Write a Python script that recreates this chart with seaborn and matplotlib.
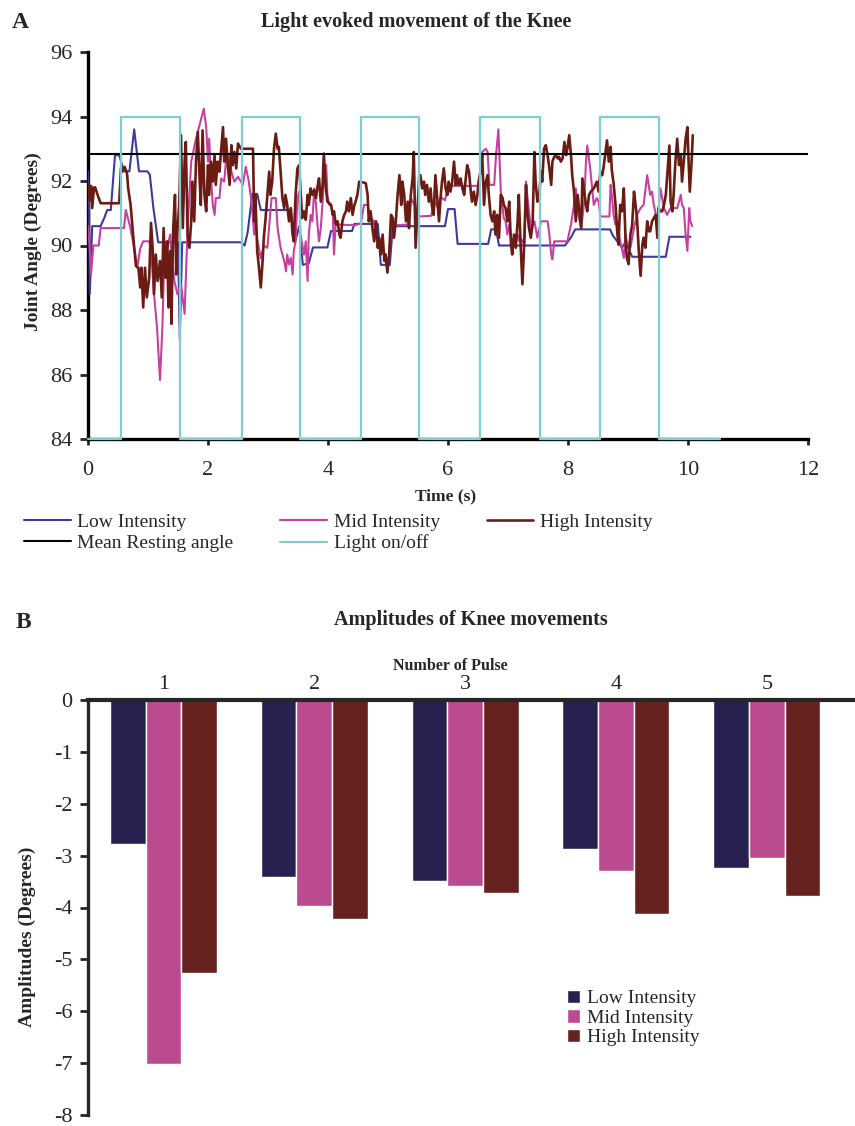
import numpy as np
import pandas as pd
import matplotlib
matplotlib.use("Agg")
import matplotlib.pyplot as plt
import seaborn as sns

sns.set_style("ticks")
plt.rcParams["font.family"] = ["Liberation Serif", "DejaVu Serif"]

# ---------------- Panel A: knee joint angle traces ----------------
LOW_T = [0.00, 0.02, 0.03, 0.07, 0.21, 0.27, 0.32, 0.38, 0.45, 0.52, 0.60, 0.69,
         0.77, 0.85, 0.99, 1.03, 1.09, 1.17, 1.50, 1.53, 1.57, 2.55, 2.61, 2.66,
         2.74, 2.82, 2.88, 3.38, 3.45, 3.52, 3.58, 3.68, 3.75, 3.99, 4.05, 4.40,
         4.44, 4.83, 4.88, 5.03, 5.08, 5.95, 6.00, 6.11, 6.16, 6.67, 6.72, 6.80,
         6.85, 7.95, 8.05, 8.12, 8.70, 8.75, 8.90, 8.96, 9.07, 9.63, 9.69, 10.04]
LOW_DEG = [92.3, 91.2, 88.5, 90.6, 90.6, 90.85, 91.1, 91.1, 92.8, 92.8, 92.3, 92.3,
           93.6, 92.3, 92.3, 92.2, 91.16, 90.1, 90.1, 87.1, 90.1, 90.1, 90.0, 90.4,
           91.6, 91.6, 91.1, 91.1, 90.1, 90.6, 89.4, 89.45, 89.94, 89.94, 90.45, 90.45,
           90.67, 90.67, 89.4, 89.4, 90.6, 90.6, 91.13, 91.13, 90.05, 90.05, 90.5, 90.5,
           90.0, 90.0, 90.25, 90.5, 90.5, 90.3, 89.94, 90.1, 89.65, 89.65, 90.27, 90.27]

MID_T = [0.00, 0.03, 0.05, 0.09, 0.18, 0.21, 0.60, 0.63, 0.70, 0.77, 0.82, 0.87,
         0.92, 1.02, 1.05, 1.10, 1.15, 1.20, 1.24, 1.27, 1.32, 1.37, 1.39, 1.44,
         1.49, 1.55, 1.61, 1.66, 1.72, 1.80, 1.93, 1.97, 2.00, 2.02, 2.05, 2.08,
         2.11, 2.13, 2.19, 2.22, 2.27, 2.30, 2.34, 2.39, 2.44, 2.50, 2.58, 2.63,
         2.68, 2.71, 2.74, 2.77, 2.79, 2.82, 2.88, 2.93, 2.99, 3.04, 3.06, 3.13,
         3.16, 3.21, 3.27, 3.30, 3.32, 3.35, 3.38, 3.41, 3.43, 3.46, 3.49, 3.52,
         3.54, 3.57, 3.60, 3.63, 3.66, 3.68, 3.71, 3.74, 3.77, 3.80, 3.82, 3.85,
         3.88, 3.91, 3.93, 3.97, 3.99, 4.02, 4.05, 4.08, 4.10, 4.13, 4.16, 4.45,
         4.49, 4.55, 4.60, 4.66, 4.69, 4.71, 4.77, 4.83, 4.88, 4.94, 4.99, 5.02,
         5.05, 5.08, 5.16, 5.33, 5.38, 5.44, 5.50, 5.72, 5.77, 5.82, 5.88, 5.95,
         6.00, 6.52, 6.57, 6.63, 6.66, 6.69, 6.77, 6.80, 6.84, 6.88, 6.93, 6.96,
         6.99, 7.02, 7.05, 7.10, 7.16, 7.19, 7.21, 7.27, 7.30, 7.32, 7.38, 7.44,
         7.49, 7.55, 7.66, 7.69, 7.72, 7.74, 7.77, 7.99, 8.05, 8.10, 8.13, 8.16,
         8.22, 8.27, 8.30, 8.32, 8.37, 8.43, 8.48, 8.51, 8.54, 8.69, 8.71, 8.73,
         8.76, 8.79, 8.82, 8.87, 8.93, 8.96, 8.98, 9.04, 9.10, 9.15, 9.21, 9.26,
         9.32, 9.37, 9.40, 9.43, 9.49, 9.54, 9.60, 9.65, 9.71, 9.82, 9.88, 9.90,
         9.93, 9.96, 9.99, 10.02, 10.04, 10.07]
MID_DEG = [90.6, 89.9, 89.1, 90.0, 90.0, 90.54, 90.54, 91.1, 90.6, 89.93, 89.31, 89.9,
           90.13, 90.13, 89.83, 88.49, 87.47, 85.83, 87.47, 89.52, 89.93, 90.34, 89.72, 88.9,
           88.49, 88.8, 87.88, 90.54, 92.6, 93.31, 94.24, 93.67, 92.6, 93.31, 92.08, 91.26,
           90.95, 91.47, 91.47, 92.08, 91.98, 92.6, 92.8, 92.29, 91.98, 92.13, 91.88, 92.44,
           91.98, 91.57, 91.06, 90.34, 90.75, 90.2, 89.6, 90.0, 89.93, 91.06, 91.47, 91.47,
           90.54, 89.93, 89.52, 89.2, 89.72, 89.41, 89.62, 89.1, 89.83, 90.13, 91.47, 91.67,
           90.34, 90.03, 89.72, 90.13, 88.9, 90.34, 90.95, 90.75, 91.77, 91.26, 90.75, 90.13,
           90.54, 91.36, 91.88, 92.5, 91.57, 91.26, 91.26, 90.95, 89.72, 90.75, 90.65, 90.63,
           90.65, 90.7, 91.26, 91.26, 90.95, 90.85, 90.75, 90.13, 89.93, 89.72, 89.31, 89.72,
           90.54, 90.65, 90.63, 90.65, 91.47, 91.26, 90.9, 90.92, 91.4, 91.2, 91.5, 91.4,
           91.85, 91.85, 92.9, 93.0, 92.9, 91.88, 91.88, 92.8, 93.6, 91.67, 90.85, 90.75,
           90.34, 90.65, 90.24, 90.03, 90.34, 90.13, 90.24, 90.03, 91.98, 91.57, 90.54, 90.75,
           90.24, 90.75, 90.75, 90.34, 89.72, 89.57, 90.13, 90.13, 90.65, 91.26, 91.77, 91.06,
           90.54, 91.36, 92.6, 93.1, 92.39, 91.26, 91.47, 91.36, 90.9, 90.9, 91.88, 91.57,
           90.95, 90.65, 90.75, 90.13, 89.62, 90.34, 90.13, 89.93, 90.54, 90.95, 91.16, 91.26,
           92.18, 91.57, 91.67, 91.26, 90.75, 91.77, 91.16, 90.95, 91.16, 91.16, 91.57, 91.26,
           91.16, 90.34, 89.83, 91.16, 90.75, 90.6]

HIGH_T = [0.00, 0.03, 0.05, 0.07, 0.10, 0.12, 0.16, 0.21, 0.52, 0.55, 0.57, 0.61,
          0.65, 0.67, 0.71, 0.74, 0.77, 0.80, 0.84, 0.87, 0.89, 0.92, 0.95, 0.98,
          1.02, 1.05, 1.08, 1.10, 1.13, 1.16, 1.20, 1.23, 1.26, 1.29, 1.32, 1.34,
          1.37, 1.39, 1.42, 1.45, 1.47, 1.49, 1.52, 1.55, 1.58, 1.61, 1.63, 1.66,
          1.69, 1.72, 1.74, 1.77, 1.80, 1.83, 1.86, 1.88, 1.91, 1.94, 1.97, 2.00,
          2.02, 2.05, 2.08, 2.11, 2.13, 2.16, 2.19, 2.22, 2.25, 2.27, 2.30, 2.33,
          2.36, 2.39, 2.41, 2.44, 2.47, 2.50, 2.53, 2.55, 2.75, 2.77, 2.79, 2.82,
          2.85, 2.88, 2.91, 2.93, 2.96, 2.99, 3.02, 3.04, 3.07, 3.10, 3.13, 3.16,
          3.18, 3.21, 3.24, 3.27, 3.29, 3.32, 3.35, 3.38, 3.41, 3.43, 3.46, 3.49,
          3.52, 3.54, 3.57, 3.60, 3.63, 3.66, 3.68, 3.71, 3.74, 3.77, 3.80, 3.82,
          3.85, 3.88, 3.91, 3.93, 3.96, 3.99, 4.02, 4.05, 4.08, 4.10, 4.13, 4.16,
          4.19, 4.21, 4.24, 4.27, 4.30, 4.32, 4.35, 4.38, 4.41, 4.44, 4.46, 4.49,
          4.52, 4.58, 4.63, 4.66, 4.68, 4.71, 4.74, 4.77, 4.80, 4.83, 4.85, 4.88,
          4.91, 4.94, 4.96, 4.99, 5.02, 5.05, 5.08, 5.10, 5.13, 5.16, 5.19, 5.22,
          5.24, 5.27, 5.30, 5.33, 5.35, 5.38, 5.41, 5.43, 5.46, 5.49, 5.52, 5.54,
          5.57, 5.60, 5.62, 5.65, 5.68, 5.71, 5.73, 5.76, 5.79, 5.82, 5.85, 5.88,
          5.90, 5.93, 5.96, 5.99, 6.01, 6.04, 6.07, 6.10, 6.13, 6.15, 6.18, 6.21,
          6.24, 6.27, 6.29, 6.32, 6.35, 6.38, 6.40, 6.43, 6.46, 6.49, 6.51, 6.54,
          6.57, 6.60, 6.63, 6.66, 6.68, 6.71, 6.74, 6.77, 6.79, 6.82, 6.85, 6.88,
          6.91, 6.93, 6.96, 6.99, 7.02, 7.05, 7.07, 7.10, 7.13, 7.16, 7.18, 7.21,
          7.24, 7.27, 7.30, 7.32, 7.35, 7.38, 7.41, 7.44, 7.46, 7.49, 7.52, 7.55,
          7.57, 7.60, 7.63, 7.66, 7.69, 7.72, 7.74, 7.77, 7.80, 7.83, 7.85, 7.88,
          7.91, 7.94, 7.97, 7.99, 8.02, 8.05, 8.07, 8.10, 8.13, 8.16, 8.19, 8.22,
          8.24, 8.27, 8.30, 8.32, 8.35, 8.38, 8.43, 8.48, 8.51, 8.54, 8.57, 8.59,
          8.65, 8.68, 8.71, 8.73, 8.76, 8.79, 8.82, 8.84, 8.87, 8.90, 8.93, 8.96,
          8.98, 9.01, 9.04, 9.07, 9.10, 9.12, 9.15, 9.18, 9.21, 9.24, 9.26, 9.29,
          9.32, 9.35, 9.37, 9.40, 9.43, 9.46, 9.49, 9.51, 9.54, 9.57, 9.60, 9.63,
          9.65, 9.69, 9.71, 9.74, 9.76, 9.79, 9.82, 9.85, 9.88, 9.90, 9.93, 9.96,
          9.99, 10.01, 10.03, 10.06, 10.08]
HIGH_DEG = [91.9, 91.4, 91.85, 91.16, 91.8, 91.8, 91.57, 91.31, 91.31, 92.4, 92.29, 92.44,
            92.24, 91.77, 91.26, 90.6, 89.93, 89.36, 89.31, 88.7, 89.31, 88.08, 89.31, 88.39,
            89.0, 90.7, 89.83, 88.49, 89.72, 88.9, 89.52, 88.39, 90.54, 89.0, 90.13, 88.08,
            89.83, 87.57, 90.54, 91.57, 89.1, 90.44, 91.26, 93.42, 90.54, 92.6, 93.21, 90.34,
            89.93, 90.75, 91.98, 90.75, 92.6, 93.52, 92.08, 91.26, 93.57, 91.57, 91.06, 92.49,
            91.57, 92.6, 91.98, 92.8, 91.88, 92.6, 92.29, 93.0, 93.67, 92.6, 93.31, 92.49,
            91.88, 93.11, 92.49, 92.9, 92.39, 93.16, 93.06, 93.0, 93.0, 90.75, 91.57, 89.83,
            89.31, 88.7, 89.52, 90.24, 90.85, 91.57, 92.29, 91.57, 91.98, 93.0, 93.47, 93.0,
            93.06, 92.29, 91.47, 91.16, 91.57, 91.26, 90.75, 91.16, 90.34, 90.13, 91.57, 92.39,
            92.49, 91.77, 90.85, 91.06, 90.8, 91.57, 91.26, 91.77, 91.57, 91.72, 91.47, 91.77,
            92.08, 91.36, 91.88, 92.85, 91.88, 91.36, 91.31, 91.26, 90.95, 91.06, 90.65, 90.75,
            90.34, 90.24, 90.75, 90.95, 91.06, 91.36, 91.06, 91.47, 90.95, 91.26, 91.36, 91.57,
            91.98, 91.96, 91.93, 91.57, 90.75, 91.06, 90.54, 90.13, 90.75, 89.93, 90.24, 89.72,
            90.34, 89.52, 89.72, 89.16, 89.72, 90.95, 90.85, 90.24, 90.75, 91.57, 92.18, 91.26,
            91.98, 91.57, 90.75, 91.36, 90.54, 91.57, 92.08, 92.9, 89.93, 91.06, 92.15, 92.18,
            91.77, 91.98, 91.57, 91.88, 91.36, 91.77, 91.26, 90.95, 92.18, 91.47, 90.75, 91.57,
            91.98, 92.39, 91.77, 91.57, 91.98, 91.67, 91.98, 92.6, 91.88, 92.18, 91.88, 92.08,
            91.77, 91.57, 91.98, 92.49, 92.29, 91.67, 91.36, 91.67, 91.26, 91.57, 91.98, 92.29,
            92.8, 91.26, 91.98, 92.18, 91.57, 90.95, 90.75, 91.06, 90.34, 90.95, 90.24, 91.57,
            91.47, 91.26, 91.16, 90.75, 91.36, 90.03, 89.72, 90.34, 89.93, 90.75, 91.57, 90.03,
            88.8, 90.03, 91.88, 91.06, 90.54, 90.24, 90.65, 92.9, 91.98, 91.36, 91.57, 92.29,
            91.98, 93.0, 93.11, 92.8, 92.39, 91.88, 92.6, 92.75, 92.8, 92.7, 92.75, 92.6,
            92.7, 93.21, 92.8, 93.0, 93.42, 92.8, 92.18, 91.67, 90.75, 91.57, 91.06, 90.54,
            92.08, 91.67, 91.26, 91.06, 91.57, 91.67, 91.77, 91.98, 91.67, 92.29, 92.18, 92.39,
            93.26, 92.6, 93.06, 92.34, 91.93, 91.31, 90.44, 90.03, 91.26, 91.06, 91.77, 90.13,
            89.62, 89.42, 90.34, 90.65, 91.67, 91.36, 90.85, 89.83, 89.06, 90.03, 90.24, 89.93,
            90.75, 90.44, 90.44, 90.75, 90.85, 90.95, 90.24, 91.16, 91.06, 91.06, 91.26, 91.57,
            92.08, 93.1, 91.36, 91.06, 91.57, 92.6, 93.31, 92.49, 92.8, 91.98, 92.6, 93.31,
            93.67, 92.6, 91.67, 92.6, 93.42]

MEAN_RESTING = 92.85
LIGHT_ON = [0.55, 2.56, 4.55, 6.53, 8.54]
LIGHT_OFF = [1.53, 3.53, 5.52, 7.53, 9.52]
LIGHT_END = 10.53
LIGHT_LEVELS = (84, 94)

# ---------------- Panel B: movement amplitudes per pulse ----------------
PULSES = ["1", "2", "3", "4", "5"]
INTENSITIES = ["Low Intensity", "Mid Intensity", "High Intensity"]
AMP_LOW = [-2.77, -3.41, -3.48, -2.87, -3.23]
AMP_MID = [-7.02, -3.98, -3.59, -3.30, -3.05]
AMP_HIGH = [-5.26, -4.23, -3.73, -4.12, -3.77]

LINE_COLORS = {"low": "#3c3a9c", "mid": "#c640a0", "high": "#6b1c12",
               "mean": "#000000", "light": "#7fcdd2"}
BAR_COLORS = ["#272150", "#bb4b8f", "#66221f"]

W, H = 855, 1126
fig = plt.figure(figsize=(W / 100, H / 100), dpi=100)


def fx(px):
    return px / W


def fy(py):
    return 1 - py / H


# ---------- Panel A ----------
axA = fig.add_axes([fx(88), fy(439), (808 - 88) / W, (439 - 52) / H])

sns.lineplot(x=LOW_T, y=LOW_DEG, sort=False, estimator=None, ax=axA,
             color=LINE_COLORS["low"], lw=1.5, label="Low Intensity", zorder=3)
sns.lineplot(x=MID_T, y=MID_DEG, sort=False, estimator=None, ax=axA,
             color=LINE_COLORS["mid"], lw=1.5, label="Mid Intensity", zorder=4)
sns.lineplot(x=HIGH_T, y=HIGH_DEG, sort=False, estimator=None, ax=axA,
             color=LINE_COLORS["high"], lw=1.9, label="High Intensity", zorder=5)
sns.lineplot(x=[0, 12], y=[MEAN_RESTING, MEAN_RESTING], sort=False, estimator=None,
             ax=axA, color=LINE_COLORS["mean"], lw=1.5, label="Mean Resting angle", zorder=6)

light_t, light_v = [0.0], [LIGHT_LEVELS[0]]
for on, off in zip(LIGHT_ON, LIGHT_OFF):
    light_t += [on, on, off, off]
    light_v += [LIGHT_LEVELS[0], LIGHT_LEVELS[1], LIGHT_LEVELS[1], LIGHT_LEVELS[0]]
light_t.append(LIGHT_END)
light_v.append(LIGHT_LEVELS[0])
sns.lineplot(x=light_t, y=light_v, sort=False, estimator=None, ax=axA,
             color=LINE_COLORS["light"], lw=1.6, label="Light on/off", zorder=7,
             clip_on=False)

axA.set_xlim(0, 12)
axA.set_ylim(84, 96)
axA.set_xticks(range(0, 13, 2))
axA.set_yticks(range(84, 97, 2))
sns.despine(ax=axA)
for side in ("left", "bottom"):
    axA.spines[side].set_linewidth(2.4)
    axA.spines[side].set_color("black")
axA.tick_params(axis="y", direction="out", length=6, width=2, pad=5, labelsize=16)
axA.tick_params(axis="x", direction="out", length=4, width=2, pad=12, labelsize=16)
axA.set_ylabel("Joint Angle (Degrees)", fontsize=14, fontweight="bold")
axA.yaxis.set_label_coords(-0.064, 0.51)
axA.set_xlabel("Time (s)", fontsize=12.5, fontweight="bold")
axA.xaxis.set_label_coords(0.496, -0.128)

handles, labels = axA.get_legend_handles_labels()
axA.get_legend().remove()
lookup = dict(zip(labels, handles))
order = ["Low Intensity", "Mean Resting angle", "Mid Intensity", "Light on/off",
         "High Intensity"]
fig.legend([lookup[k] for k in order], order, loc="upper left",
           bbox_to_anchor=(fx(24), fy(513)), ncol=3, frameon=False, fontsize=14,
           handlelength=2.4, handletextpad=0.35, columnspacing=2.4,
           labelspacing=0.2, borderpad=0, borderaxespad=0)

fig.text(fx(12), fy(22), "A", fontsize=17, fontweight="bold", va="center")
fig.text(fx(416), fy(22), "Light evoked movement of the Knee", fontsize=14.5,
         fontweight="bold", ha="center", va="center")

# ---------- Panel B ----------
axB = fig.add_axes([fx(88), fy(1115), (W - 88) / W, (1115 - 700) / H])

amp_df = pd.DataFrame({
    "pulse": PULSES * 3,
    "intensity": np.repeat(INTENSITIES, len(PULSES)),
    "amplitude": AMP_LOW + AMP_MID + AMP_HIGH,
})
sns.barplot(data=amp_df, x="pulse", y="amplitude", hue="intensity",
            hue_order=INTENSITIES, palette=BAR_COLORS, width=0.71, saturation=1,
            errorbar=None, ax=axB)

axB.set_xlim(-0.5, 4.585)
axB.set_ylim(-8, 0)
axB.set_yticks(range(-8, 1))
axB.set_yticklabels([str(v) for v in range(-8, 1)])
for side in ("bottom", "right"):
    axB.spines[side].set_visible(False)
axB.spines["top"].set_linewidth(3)
axB.spines["left"].set_linewidth(2.4)
axB.xaxis.tick_top()
axB.xaxis.set_label_position("top")
axB.tick_params(axis="x", length=0, pad=4, labelsize=16)
axB.tick_params(axis="y", direction="out", length=6, width=2, pad=5, labelsize=16)
axB.set_xlabel("Number of Pulse", fontsize=11.5, fontweight="bold")
axB.xaxis.set_label_coords(0.472, 1.072)
axB.set_ylabel("Amplitudes (Degrees)", fontsize=14, fontweight="bold")
axB.yaxis.set_label_coords(-0.068, 0.43)

bh, bl = axB.get_legend_handles_labels()
axB.get_legend().remove()
axB.legend(bh, bl, loc="upper left", bbox_to_anchor=(0.624, 0.302), frameon=False,
           fontsize=14, handlelength=0.7, handleheight=0.7, handletextpad=0.35,
           labelspacing=0.1, borderpad=0, borderaxespad=0)

fig.text(fx(16), fy(622), "B", fontsize=17, fontweight="bold", va="center")
fig.text(fx(471), fy(620), "Amplitudes of Knee movements", fontsize=14.5,
         fontweight="bold", ha="center", va="center")

fig.savefig("out.png", dpi=100)
